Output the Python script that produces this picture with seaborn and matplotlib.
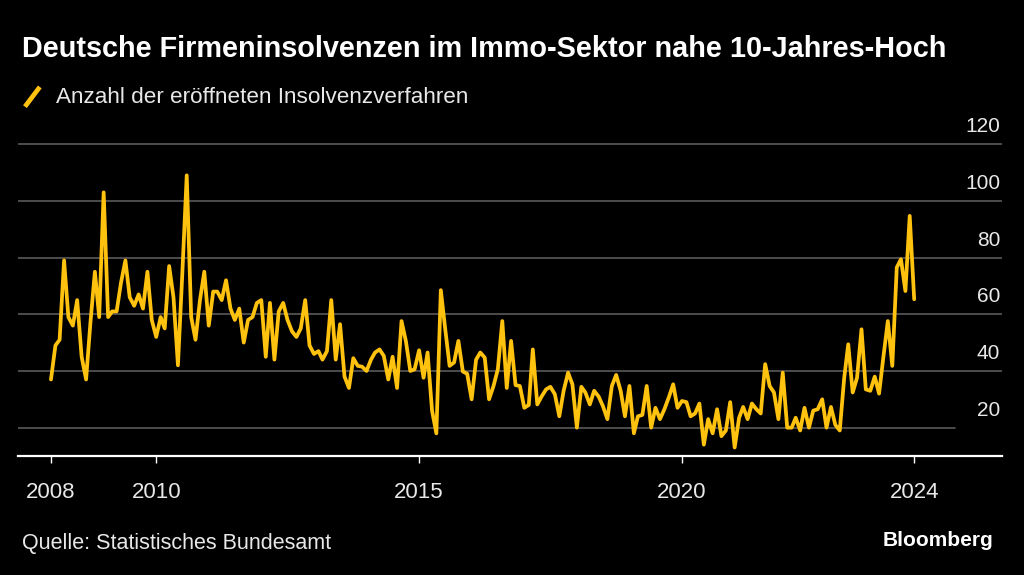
import numpy as np
import pandas as pd
import matplotlib
matplotlib.use("Agg")
import matplotlib.pyplot as plt
import matplotlib.transforms as mtransforms
from matplotlib.lines import Line2D
from matplotlib.legend_handler import HandlerBase
import seaborn as sns

# ---- data (monthly) ----
start_month = "2008-01-01"
insolvenzverfahren = [
    37, 49, 51, 79, 59, 56, 65, 45, 37, 57, 75, 59,
    103, 59, 61, 61, 71, 79, 66, 63, 67, 62, 75, 58,
    52, 59, 55, 77, 66, 42, 74, 109, 59, 51, 65, 75,
    56, 68, 68, 65, 72, 62, 58, 62, 50, 58, 59, 64,
    65, 45, 64, 44, 61, 64, 58, 54, 52, 55, 65, 49,
    46, 47, 44, 47, 65, 44, 56.5, 38, 34, 44.5, 41.8, 41.5,
    40, 44, 46.5, 47.6, 45.3, 37, 45, 34, 57.6, 50.6, 40, 40.6,
    47.3, 37.6, 46.5, 26, 18, 68.5, 55, 41.8, 43, 50.6, 39.8, 39,
    30, 44, 46.5, 44.7, 30, 34.7, 40.6, 57.6, 34, 50.6, 35, 34.7,
    27, 28, 47.6, 28.2, 31, 33.5, 34.4, 31.8, 24, 33, 39.4, 35.3,
    20, 34.4, 32.4, 28.2, 33, 31, 27.6, 23, 34.7, 38.6, 33, 24,
    34.7, 18, 24, 24.5, 34.7, 20, 27, 23, 26.5, 30.6, 35.3, 27,
    29.4, 29, 24, 25, 28.5, 14, 23, 18, 26.5, 17, 19, 29,
    13, 23.5, 27.3, 23, 28.5, 26.5, 25, 42.4, 34.7, 32.4, 23, 39.4,
    20, 20, 23.5, 19, 27, 20, 26, 26.5, 30, 20, 27.3, 21,
    19, 37.6, 49.4, 32.4, 37.6, 54.7, 33.5, 33, 38, 32, 45.3, 57.6,
    41.8, 76.5, 79.4, 68.2, 94.7, 65.3,
]
x_tick_dates = ["2008-01-01", "2010-01-01", "2015-01-01", "2020-01-01"]
x_tick_labels = ["2008", "2010", "2015", "2020", "2024"]
y_ticks = [20, 40, 60, 80, 100, 120]

title = "Deutsche Firmeninsolvenzen im Immo-Sektor nahe 10-Jahres-Hoch"
series_label = "Anzahl der eröffneten Insolvenzverfahren"
source = "Quelle: Statistisches Bundesamt"

YELLOW = "#FFC20E"
TXT = "#e8e8e8"
GRID = "#5a5a5a"

dates = pd.date_range(start_month, periods=len(insolvenzverfahren), freq="MS")
df = pd.DataFrame({"Datum": dates, "Anzahl": insolvenzverfahren})

sns.set_theme(style="dark")
plt.rcParams["font.family"] = ["Liberation Sans", "DejaVu Sans"]

fig = plt.figure(figsize=(10.24, 5.75), dpi=100, facecolor="black")
W, H = 1024, 575
ax = fig.add_axes([18 / W, (H - 456) / H, 984 / W, 317.5 / H])
ax.set_facecolor("black")

sns.lineplot(data=df, x="Datum", y="Anzahl", ax=ax, color=YELLOW,
             linewidth=2.7, legend=False, zorder=3)

ax.set_ylim(10, 122)
ax.set_xlim(dates[0] - pd.Timedelta(days=229), dates[-1] + pd.Timedelta(days=610))

# gridlines
for v in y_ticks:
    ax.axhline(v, color=GRID, lw=1.2, xmin=0, xmax=(0.952 if v == 20 else 1.0), zorder=1)

# y labels above gridlines on the right
trans = mtransforms.blended_transform_factory(ax.transAxes, ax.transData)
trans = mtransforms.offset_copy(trans, fig=fig, x=0, y=12, units="dots")
for v in y_ticks:
    ax.text(0.998, v, str(v), transform=trans, ha="right", va="baseline",
            fontsize=15, color=TXT)
ax.set_yticks([])

for s in ["top", "left", "right"]:
    ax.spines[s].set_visible(False)
ax.spines["bottom"].set_color("white")
ax.spines["bottom"].set_linewidth(1.6)

xt = list(pd.to_datetime(x_tick_dates)) + [dates[-1]]
ax.set_xticks(xt)
ax.set_xticklabels(x_tick_labels)
ax.tick_params(axis="x", colors="white", length=5, width=1, direction="out",
               pad=14, labelsize=16, labelcolor=TXT, bottom=True)
ax.set_xlabel("")
ax.set_ylabel("")
ax.grid(False)

# title
fig.text(22 / W, 1 - 49 / H, title, fontsize=20.8, fontweight="bold",
         color="white", va="center", ha="left")


class SlashHandler(HandlerBase):
    def create_artists(self, legend, orig_handle, xdescent, ydescent,
                       width, height, fontsize, trans):
        l = Line2D([width * 0.2 - xdescent, width * 0.8 - xdescent],
                   [-ydescent - height * 0.2, -ydescent + height * 1.05],
                   color=YELLOW, lw=3.4, solid_capstyle="butt", transform=trans)
        return [l]


handle = Line2D([], [], color=YELLOW)
fig.legend([handle], [series_label], handler_map={Line2D: SlashHandler()},
           loc="center left", bbox_to_anchor=(20 / W, 1 - 98 / H),
           frameon=False, fontsize=16.2, labelcolor=TXT,
           handlelength=1.1, handletextpad=0.5, borderaxespad=0, borderpad=0)

fig.text(22 / W, 1 - 543 / H, source, fontsize=15.5, color=TXT, va="center", ha="left")
fig.text(993 / W, 1 - 540 / H, "Bloomberg", fontsize=15, fontweight="bold",
         color="white", va="center", ha="right")

fig.savefig("out.png", dpi=100, facecolor="black")
